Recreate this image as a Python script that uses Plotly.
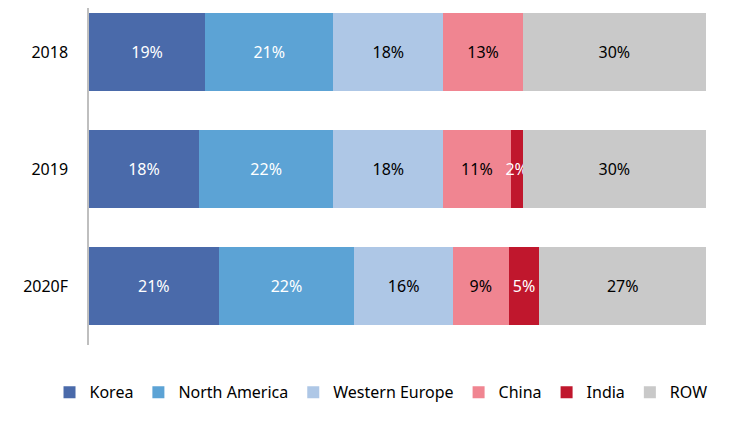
import plotly.graph_objects as go

years = ["2018", "2019", "2020F"]
regions = ["Korea", "North America", "Western Europe", "China", "India", "ROW"]
values = {
    "Korea": [19, 18, 21],
    "North America": [21, 22, 22],
    "Western Europe": [18, 18, 16],
    "China": [13, 11, 9],
    "India": [0, 2, 5],
    "ROW": [30, 30, 27],
}
colors = {
    "Korea": "#4A6AAA",
    "North America": "#5CA3D5",
    "Western Europe": "#AEC7E6",
    "China": "#F08591",
    "India": "#C0172D",
    "ROW": "#C9C9C9",
}
text_colors = {
    "Korea": "white",
    "North America": "white",
    "Western Europe": "black",
    "China": "black",
    "India": "white",
    "ROW": "black",
}

FONT = "Noto Sans"
fig = go.Figure()
for r in regions:
    vals = values[r]
    labels = [f"{v}%" if v > 0 else "" for v in vals]
    fig.add_trace(go.Bar(
        name=r, y=years, x=vals, orientation="h",
        marker=dict(color=colors[r], line=dict(width=0)),
        text=labels, textposition="inside", insidetextanchor="middle",
        textangle=0,
        textfont=dict(color=text_colors[r], size=16, family=FONT),
        hoverinfo="skip",
    ))

fig.update_layout(
    barmode="stack", barnorm="percent", bargap=0.34,
    width=735, height=421,
    margin=dict(l=81, r=37, t=0, b=84, autoexpand=False),
    paper_bgcolor="white", plot_bgcolor="white",
    font=dict(family=FONT, size=16, color="black"),
    uniformtext=dict(minsize=16, mode="show"),
    showlegend=True,
    legend=dict(orientation="h", x=-0.064, xanchor="left", y=-0.09, yanchor="top",
                font=dict(size=16, family=FONT), traceorder="normal",
                tracegroupgap=0, itemwidth=30),
    xaxis=dict(range=[0, 100], showgrid=False, showticklabels=False, zeroline=False,
               showline=False, fixedrange=True),
    yaxis=dict(type="category", categoryorder="array", categoryarray=years,
               range=[2.504, -0.376], showgrid=False, showline=True,
               linecolor="#BFBFBF", linewidth=1.5, ticks="",
               ticklabelstandoff=16,
               tickfont=dict(size=16, family=FONT, color="black")),
)

fig.write_html("out.html")
